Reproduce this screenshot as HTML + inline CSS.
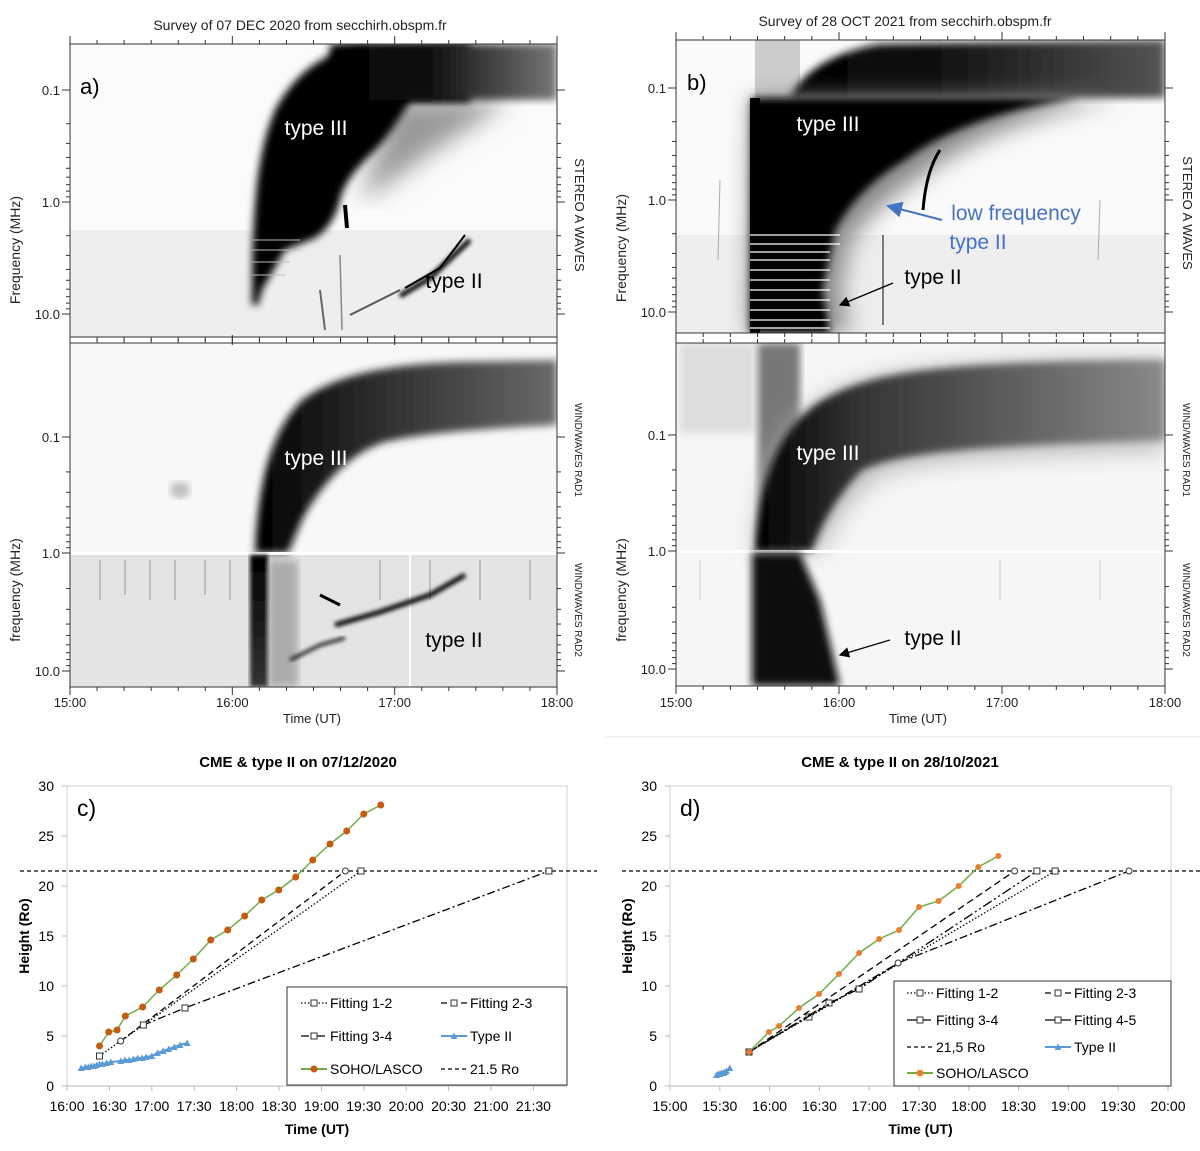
<!DOCTYPE html>
<html><head><meta charset="utf-8"><style>
body{margin:0;background:#fff;}
svg{display:block;font-family:"Liberation Sans",sans-serif;}
</style></head><body>
<svg id="fig" width="1200" height="1151" viewBox="0 0 1200 1151">
<defs>
<filter id="b2"><feGaussianBlur stdDeviation="2"/></filter>
<filter id="b4"><feGaussianBlur stdDeviation="4"/></filter>
<filter id="b7"><feGaussianBlur stdDeviation="7"/></filter>
<filter id="b12"><feGaussianBlur stdDeviation="12"/></filter>
<linearGradient id="gTopA" x1="0" x2="1" y1="0" y2="0"><stop offset="0" stop-color="#000"/><stop offset="0.45" stop-color="#111"/><stop offset="1" stop-color="#777"/></linearGradient>
<linearGradient id="gBotA" x1="0" x2="1"><stop offset="0" stop-color="#000"/><stop offset="0.3" stop-color="#222"/><stop offset="1" stop-color="#6a6a6a"/></linearGradient>
<linearGradient id="gTopB" x1="0" x2="1"><stop offset="0" stop-color="#000"/><stop offset="0.4" stop-color="#111"/><stop offset="1" stop-color="#555"/></linearGradient>
<linearGradient id="gBotB" x1="0" x2="1"><stop offset="0" stop-color="#000"/><stop offset="0.25" stop-color="#333"/><stop offset="1" stop-color="#8a8a8a"/></linearGradient>
<linearGradient id="gStreak" x1="0" x2="0" y1="0" y2="1"><stop offset="0" stop-color="#000"/><stop offset="1" stop-color="#333"/></linearGradient>
<clipPath id="cA1"><rect x="70" y="44" width="487" height="293"/></clipPath>
<clipPath id="cA2"><rect x="70" y="343" width="487" height="344"/></clipPath>
<clipPath id="cB1"><rect x="676" y="40" width="489" height="293"/></clipPath>
<clipPath id="cB2"><rect x="676" y="343" width="489" height="343"/></clipPath>
<marker id="arB" markerWidth="8" markerHeight="8" refX="7" refY="4" orient="auto"><path d="M0,0 L8,4 L0,8 Z" fill="#000"/></marker>
<marker id="arU" markerWidth="8" markerHeight="8" refX="7" refY="4" orient="auto"><path d="M0,0 L8,4 L0,8 Z" fill="#4472C4"/></marker>
</defs>

<text x="300" y="30" text-anchor="middle" font-size="14" fill="#222">Survey of 07 DEC 2020 from secchirh.obspm.fr</text>
<text x="905" y="26" text-anchor="middle" font-size="14" fill="#222">Survey of 28 OCT 2021 from secchirh.obspm.fr</text>

<!-- Panel a top -->
<g clip-path="url(#cA1)">
<rect x="70" y="44" width="487" height="293" fill="#fbfbfb"/>
<rect x="70" y="230" width="487" height="107" fill="#eeeeee"/>
<path d="M395,100 L510,100 C480,120 450,140 420,160 C400,175 380,190 360,200 Z" fill="#999" filter="url(#b12)"/>
<path d="M252,305 C252,200 258,150 275,110 C292,78 318,55 355,47 L470,44 L470,102 L410,102 C398,120 390,135 375,150 C360,165 345,180 340,200 C336,215 330,228 315,238 L285,250 L262,290 L258,305 Z" fill="#000" filter="url(#b4)"/>
<path d="M330,44 L557,44 L557,100 L330,100 Z" fill="url(#gTopA)" filter="url(#b4)"/>
<g stroke="#000" fill="none">
<path d="M400,296 L430,278 L470,240" stroke-width="5" filter="url(#b2)"/>
<path d="M405,288 L440,268 L465,235" stroke-width="2"/>
<path d="M350,315 L380,300 L400,290" stroke-width="2" stroke="#555"/>
<path d="M320,290 L325,330" stroke-width="2" stroke="#666"/>
<path d="M340,255 L342,330" stroke-width="1.5" stroke="#888"/>
<path d="M345,205 L347,228" stroke-width="4"/>
</g>
<g stroke="#bbb" stroke-width="1"><line x1="252" y1="240" x2="300" y2="240"/><line x1="252" y1="250" x2="300" y2="250"/><line x1="252" y1="262" x2="290" y2="262"/><line x1="252" y1="275" x2="285" y2="275"/></g>
</g>
<rect x="70" y="44" width="487" height="293" fill="none" stroke="#333"/>

<!-- Panel a bottom -->
<g clip-path="url(#cA2)">
<rect x="70" y="343" width="487" height="344" fill="#f8f8f8"/>
<rect x="70" y="555" width="487" height="132" fill="#e4e4e4"/>
<path d="M255,553 C258,480 272,430 302,400 C335,375 385,365 455,362 L557,360 L557,425 C500,428 425,432 385,442 C352,452 322,482 302,520 L288,553 Z" fill="url(#gBotA)" filter="url(#b4)"/>
<ellipse cx="180" cy="490" rx="10" ry="8" fill="#bbb" filter="url(#b4)"/>
<rect x="70" y="552" width="487" height="3" fill="#fff"/>
<rect x="250" y="555" width="18" height="132" fill="url(#gStreak)" filter="url(#b2)"/>
<rect x="268" y="560" width="30" height="127" fill="#888" filter="url(#b4)" opacity="0.6"/>
<g stroke="#999" stroke-width="1">
<line x1="100" y1="560" x2="100" y2="600"/><line x1="125" y1="560" x2="125" y2="595"/><line x1="150" y1="560" x2="150" y2="600"/><line x1="175" y1="560" x2="175" y2="600"/><line x1="205" y1="560" x2="205" y2="595"/><line x1="230" y1="560" x2="230" y2="600"/><line x1="380" y1="560" x2="380" y2="600"/><line x1="430" y1="560" x2="430" y2="600"/><line x1="480" y1="560" x2="480" y2="600"/><line x1="530" y1="560" x2="530" y2="600"/><line x1="410" y1="555" x2="410" y2="687" stroke="#fff" stroke-width="2"/>
</g>
<g stroke="#000" fill="none">
<path d="M335,625 L380,612 L430,595 L465,575" stroke-width="5" filter="url(#b2)"/>
<path d="M290,660 L320,645 L345,638" stroke-width="3" filter="url(#b2)"/>
<path d="M320,595 L340,605" stroke-width="3"/>
</g>
</g>
<rect x="70" y="343" width="487" height="344" fill="none" stroke="#333"/>

<!-- Panel b top -->
<g clip-path="url(#cB1)">
<rect x="676" y="40" width="489" height="293" fill="#fafafa"/>
<rect x="676" y="235" width="489" height="98" fill="#eeeeee"/>
<rect x="755" y="40" width="45" height="58" fill="#ccc"/>
<path d="M790,98 C800,75 830,52 880,44 L1165,40 L1165,98 Z" fill="url(#gTopB)" filter="url(#b4)"/>
<path d="M752,98 L1120,98 C1030,115 970,140 930,170 C890,195 870,215 850,240 L840,290 L850,333 L750,333 Z" fill="#888" filter="url(#b12)"/>
<path d="M752,98 L1080,98 C1000,110 945,130 905,160 C872,180 852,200 835,230 L822,290 L830,333 L750,333 Z" fill="#000" filter="url(#b4)"/>
<rect x="750" y="98" width="10" height="235" fill="#000"/>
<g stroke="#fff" stroke-width="1.2"><line x1="750" y1="235" x2="840" y2="235"/><line x1="750" y1="244" x2="840" y2="244"/><line x1="750" y1="252" x2="830" y2="252"/><line x1="750" y1="260" x2="830" y2="260"/><line x1="750" y1="270" x2="830" y2="270"/><line x1="750" y1="280" x2="830" y2="280"/><line x1="750" y1="290" x2="830" y2="290"/><line x1="750" y1="300" x2="830" y2="300"/><line x1="750" y1="310" x2="830" y2="310"/><line x1="750" y1="320" x2="830" y2="320"/><line x1="750" y1="328" x2="830" y2="328"/></g>
<path d="M940,150 C930,165 925,185 923,210" stroke="#000" stroke-width="3" fill="none"/>
<line x1="883" y1="235" x2="883" y2="325" stroke="#555" stroke-width="1.5"/>
<line x1="720" y1="180" x2="718" y2="260" stroke="#aaa" stroke-width="1"/>
<line x1="1100" y1="200" x2="1098" y2="260" stroke="#aaa" stroke-width="1"/>
</g>
<rect x="676" y="40" width="489" height="293" fill="none" stroke="#333"/>

<!-- Panel b bottom -->
<g clip-path="url(#cB2)">
<rect x="676" y="343" width="489" height="343" fill="#f6f6f6"/>
<rect x="680" y="343" width="75" height="90" fill="#ddd" filter="url(#b4)"/>
<rect x="758" y="343" width="42" height="208" fill="#777" filter="url(#b4)"/>
<path d="M755,551 C760,470 782,420 832,395 C882,370 952,362 1165,360 L1165,450 C1002,455 902,460 872,480 C852,500 832,520 822,551 Z" fill="#bbb" filter="url(#b12)"/>
<path d="M755,551 C760,470 782,420 832,395 C882,370 952,362 1165,360 L1165,440 C1002,445 902,450 862,470 C842,490 822,520 812,551 Z" fill="url(#gBotB)" filter="url(#b4)"/>
<rect x="676" y="550" width="489" height="3" fill="#fff"/>
<path d="M752,553 L800,553 L820,600 L840,686 L752,686 Z" fill="#111" filter="url(#b4)"/>
<g stroke="#ccc"><line x1="700" y1="560" x2="700" y2="600"/><line x1="1000" y1="560" x2="1000" y2="600"/><line x1="1100" y1="560" x2="1100" y2="600"/></g>
</g>
<rect x="676" y="343" width="489" height="343" fill="none" stroke="#333"/>

<g id="specAxes"></g>

<g font-family="'Liberation Sans',sans-serif" font-size="21">
<text x="80" y="94" fill="#000" font-size="22">a)</text>
<text x="316" y="135" text-anchor="middle" fill="#fff">type III</text>
<text x="454" y="288" text-anchor="middle" fill="#000">type II</text>
<text x="316" y="465" text-anchor="middle" fill="#fff">type III</text>
<text x="454" y="647" text-anchor="middle" fill="#000">type II</text>
<text x="687" y="90" fill="#000" font-size="22">b)</text>
<text x="828" y="131" text-anchor="middle" fill="#fff">type III</text>
<text x="1016" y="220" text-anchor="middle" fill="#4472C4">low frequency</text>
<text x="978" y="249" text-anchor="middle" fill="#4472C4">type II</text>
<text x="933" y="284" text-anchor="middle" fill="#000">type II</text>
<text x="828" y="460" text-anchor="middle" fill="#fff">type III</text>
<text x="933" y="645" text-anchor="middle" fill="#000">type II</text>
</g>
<line x1="942" y1="220" x2="888" y2="206" stroke="#4472C4" stroke-width="2" marker-end="url(#arU)"/>
<line x1="893" y1="283" x2="840" y2="305" stroke="#000" stroke-width="1.3" marker-end="url(#arB)"/>
<line x1="890" y1="640" x2="840" y2="655" stroke="#000" stroke-width="1.3" marker-end="url(#arB)"/>

<line x1="605" y1="737" x2="1200" y2="737" stroke="#e6e6e6"/>

<g id="chartC"></g>
<g id="chartD"></g>
</svg>

<script>
// ---- chart c data (minutes after 16:00, heights in Ro) ----
const cLascoT=[23,29.5,35.4,41.3,53.5,65.3,77.6,89.4,101.7,113.7,125.7,137.8,149.8,161.8,173.9,186.1,197.9,210,222];
const cLascoH=[4.0,5.4,5.6,7.0,7.9,9.6,11.1,12.7,14.6,15.6,17.0,18.6,19.6,20.9,22.6,24.2,25.5,27.2,28.1];
const cType2T=[10,13,15,17,19,21,23,25,28,31,38,41,44,47,50,53,56,60,64,68,72,76,80,85];
const cType2H=[1.8,1.9,1.9,2.0,2.0,2.1,2.2,2.2,2.3,2.4,2.5,2.6,2.6,2.7,2.8,2.8,2.9,3.0,3.3,3.5,3.7,3.9,4.1,4.3];
const cFit12T=[23,208], cFit12H=[3.0,21.5];
const cFit23T=[38,197], cFit23H=[4.5,21.5];
const cFit34T=[54,83.5,341], cFit34H=[6.1,7.8,21.5];
const cTicks=["16:00","16:30","17:00","17:30","18:00","18:30","19:00","19:30","20:00","20:30","21:00","21:30"];
// ---- chart d data (minutes after 15:00) ----
const dLascoT=[47.6,59.6,65.7,77.7,89.8,101.8,113.9,126,138,150,161.8,173.9,185.7,197.8];
const dLascoH=[3.4,5.4,6.0,7.8,9.2,11.2,13.3,14.7,15.6,17.9,18.5,20.0,21.9,23.0];
const dType2T=[28,29,30,31,32,33,34,36];
const dType2H=[1.1,1.2,1.2,1.3,1.3,1.4,1.5,1.8];
const dFit12T=[47.6,83.7,232], dFit12H=[3.4,6.9,21.5];
const dFit23T=[47.6,207.6], dFit23H=[3.4,21.5];
const dFit34T=[47.6,95.8,113.9,221], dFit34H=[3.4,8.3,9.7,21.5];
const dFit45T=[47.6,137.4,276.5], dFit45H=[3.4,12.3,21.5];
const dTicks=["15:00","15:30","16:00","16:30","17:00","17:30","18:00","18:30","19:00","19:30","20:00"];
const yTicks=[0,5,10,15,20,25,30];
const limitRo=21.5;

const NS="http://www.w3.org/2000/svg";
function mk(parent,tag,attrs,txt){const e=document.createElementNS(NS,tag);for(const k in attrs)e.setAttribute(k,attrs[k]);if(txt!==undefined)e.textContent=txt;parent.appendChild(e);return e;}

function drawChart(g,cfg){
  const X=t=>cfg.x0+t*cfg.pxPer30/30;
  const Y=h=>1086-h*10;
  const box=mk(g,'rect',{x:cfg.x0,y:Y(30),width:cfg.x1-cfg.x0,height:300,fill:'#fff',stroke:'#d0d0d0'});
  
  
  const title=mk(g,'text',{x:cfg.titleX,y:767,'text-anchor':'middle','font-size':15,'font-weight':'bold'},cfg.title);
  
  
  const pl=mk(g,'text',{x:cfg.x0+10,y:Y(30)+30,'font-size':23},cfg.panel);
  
  
  yTicks.forEach(v=>{
    const t=mk(g,'text',{x:cfg.x0-13,y:Y(v)+5,'text-anchor':'end','font-size':14},String(v));
    
    
    mk(g,'line',{x1:cfg.x0-5,x2:cfg.x0,y1:Y(v),y2:Y(v),stroke:'#bbb'});
  });
  cfg.ticks.forEach((s,i)=>{
    const xx=X(i*30);
    mk(g,'line',{x1:xx,x2:xx,y1:1086,y2:1091,stroke:'#bbb'});
    const t=mk(g,'text',{x:xx,y:1111,'text-anchor':'middle','font-size':14},s);
    
    
  });
  mk(g,'line',{x1:cfg.x0,x2:cfg.x1,y1:1086,y2:1086,stroke:'#bbb'});
  const yl=mk(g,'text',{x:0,y:0,'text-anchor':'middle','font-size':14,'font-weight':'bold',transform:`translate(${cfg.x0-38},936) rotate(-90)`},'Height (Ro)');
  
  
  const xl=mk(g,'text',{x:(cfg.x0+cfg.x1)/2,y:1134,'text-anchor':'middle','font-size':14,'font-weight':'bold'},'Time (UT)');
  
  
  const hl=mk(g,'line',{x1:cfg.hx0,x2:cfg.x1+30,y1:Y(limitRo),y2:Y(limitRo),stroke:'#000','stroke-dasharray':'4 3','stroke-width':1.2});
  
  
  cfg.fits.forEach(f=>{
    const pts=f.t.map((t,i)=>X(t)+','+Y(f.h[i])).join(' ');
    const l=mk(g,'polyline',{points:pts,fill:'none',stroke:'#000','stroke-width':1.3,'stroke-dasharray':f.dash});
    
    
    f.t.forEach((t,i)=>{
      const m=mk(g,'rect',{x:X(t)-3,y:Y(f.h[i])-3,width:6,height:6,rx:f.round?3:0,fill:'#fff',stroke:'#333','stroke-width':1});
      
      
    });
  });
  const t2=mk(g,'polyline',{points:cfg.t2T.map((t,i)=>X(t)+','+Y(cfg.t2H[i])).join(' '),fill:'none',stroke:'#5B9BD5','stroke-width':2});
  
  
  cfg.t2T.forEach((t,i)=>{
    const x=X(t),y=Y(cfg.t2H[i]);
    const p=mk(g,'path',{d:`M${x-3.5},${y+3} L${x+3.5},${y+3} L${x},${y-3.5} Z`,fill:'#5B9BD5'});
    
    
  });
  const ls=mk(g,'polyline',{points:cfg.lT.map((t,i)=>X(t)+','+Y(cfg.lH[i])).join(' '),fill:'none',stroke:'#70AD47','stroke-width':1.5});
  
  
  cfg.lT.forEach((t,i)=>{
    const c=mk(g,'circle',{cx:X(t),cy:Y(cfg.lH[i]),r:cfg.lr,fill:cfg.lcol});
    
    
  });
  const L=cfg.legend;
  const lb=mk(g,'rect',{x:L.x,y:L.y,width:L.w,height:L.h,fill:'#fff',stroke:'#333'});
  
  
  L.items.forEach(it=>{
    const sx=it.c?L.c2:L.c1, sy=L.rows[it.r];
    const ln=mk(g,'line',{x1:sx,x2:sx+26,y1:sy,y2:sy,stroke:it.col||'#000','stroke-width':it.col?2:1.3,'stroke-dasharray':it.dash||''});
    
    
    if(it.mark==='sq') mk(g,'rect',{x:sx+10,y:sy-3,width:6,height:6,fill:'#fff',stroke:'#333'});
    if(it.mark==='dot') mk(g,'circle',{cx:sx+13,cy:sy,r:3.5,fill:cfg.lcol});
    if(it.mark==='tri') mk(g,'path',{d:`M${sx+9.5},${sy+3} L${sx+16.5},${sy+3} L${sx+13},${sy-3.5} Z`,fill:'#5B9BD5'});
    const tx=mk(g,'text',{x:sx+29,y:sy+5,'font-size':14},it.label);
    
    
  });
}

drawChart(document.getElementById('chartC'),{
  x0:67,x1:567,hx0:20,pxPer30:42.4,ticks:cTicks,title:'CME & type II on 07/12/2020',titleX:298,panel:'c)',
  lT:cLascoT,lH:cLascoH,lcol:'#C55A11',lr:3.5,t2T:cType2T,t2H:cType2H,
  fits:[{t:cFit12T,h:cFit12H,dash:'1.5 2',name:'fitting-1-2'},{t:cFit23T,h:cFit23H,dash:'6 4',name:'fitting-2-3',round:true},{t:cFit34T,h:cFit34H,dash:'8 3 2 3',name:'fitting-3-4'}],
  legend:{x:287,y:987,w:280,h:98,c1:301,c2:441,rows:[1003,1036,1069],items:[
    {r:0,c:0,label:'Fitting 1-2',dash:'1.5 2',mark:'sq'},{r:0,c:1,label:'Fitting 2-3',dash:'6 4',mark:'sq'},
    {r:1,c:0,label:'Fitting 3-4',dash:'8 3 2 3',mark:'sq'},{r:1,c:1,label:'Type II',col:'#5B9BD5',mark:'tri'},
    {r:2,c:0,label:'SOHO/LASCO',col:'#70AD47',mark:'dot'},{r:2,c:1,label:'21.5 Ro',dash:'4 3'}]}
});
drawChart(document.getElementById('chartD'),{
  x0:670,x1:1171,hx0:622,pxPer30:49.8,ticks:dTicks,title:'CME & type II on 28/10/2021',titleX:900,panel:'d)',
  lT:dLascoT,lH:dLascoH,lcol:'#ED7D31',lr:3,t2T:dType2T,t2H:dType2H,
  fits:[{t:dFit12T,h:dFit12H,dash:'1.5 2',name:'fitting-1-2'},{t:dFit23T,h:dFit23H,dash:'7 4',name:'fitting-2-3',round:true},{t:dFit34T,h:dFit34H,dash:'10 3 2 3 2 3',name:'fitting-3-4'},{t:dFit45T,h:dFit45H,dash:'8 3 2 3',name:'fitting-4-5',round:true}],
  legend:{x:894,y:981,w:277,h:105,c1:907,c2:1045,rows:[993,1020,1047,1073],items:[
    {r:0,c:0,label:'Fitting 1-2',dash:'1.5 2',mark:'sq'},{r:0,c:1,label:'Fitting 2-3',dash:'6 4',mark:'sq'},
    {r:1,c:0,label:'Fitting 3-4',dash:'10 4',mark:'sq'},{r:1,c:1,label:'Fitting 4-5',mark:'sq'},
    {r:2,c:0,label:'21,5 Ro',dash:'4 3'},{r:2,c:1,label:'Type II',col:'#5B9BD5',mark:'tri'},
    {r:3,c:0,label:'SOHO/LASCO',col:'#70AD47',mark:'dot'}]}
});

const sa=document.getElementById('specAxes');
const timeLabels=["15:00","16:00","17:00","18:00"];
const freqLabels=["0.1","1.0","10.0"];
function specAxes(x0,x1,boxes,xLab,rightLabels){
  boxes.forEach(b=>{
    for(let m=0;m<=18;m++){const x=x0+(x1-x0)*m/18, big=m%6===0?8:4;
      mk(sa,'line',{x1:x,x2:x,y1:b.top,y2:b.top-big,stroke:'#333'});
      mk(sa,'line',{x1:x,x2:x,y1:b.bot,y2:b.bot+big,stroke:'#333'});}
    freqLabels.forEach((f,i)=>{const y=b.f[i];
      mk(sa,'line',{x1:x0-8,x2:x0,y1:y,y2:y,stroke:'#333'});mk(sa,'line',{x1:x1,x2:x1+8,y1:y,y2:y,stroke:'#333'});
      const t=mk(sa,'text',{x:x0-10,y:y+5,'text-anchor':'end','font-size':13,fill:'#222'},f);
      
      
      if(i<2){const d=b.f[i+1]-y;[2,3,4,5,6,7,8,9].forEach(k=>{const yy=y+d*Math.log10(k);
        mk(sa,'line',{x1:x0-4,x2:x0,y1:yy,y2:yy,stroke:'#333'});mk(sa,'line',{x1:x1,x2:x1+4,y1:yy,y2:yy,stroke:'#333'});});}
    });
    const yl=mk(sa,'text',{'text-anchor':'middle','font-size':14,fill:'#222',transform:`translate(${x0-50},${b.mid}) rotate(-90)`},b.lab);
    
    
  });
  timeLabels.forEach((s,i)=>{const t=mk(sa,'text',{x:x0+(x1-x0)*i/3,y:707,'text-anchor':'middle','font-size':13,fill:'#222'},s);
    
    });
  const tl=mk(sa,'text',{x:xLab,y:723,'text-anchor':'middle','font-size':13,fill:'#222'},'Time (UT)');
  
  
  rightLabels.forEach(r=>{const t=mk(sa,'text',{'text-anchor':'middle','font-size':r.s,fill:'#222',transform:`translate(${x1+18},${r.y}) rotate(90)`},r.t);
    
    });
}
specAxes(70,557,[{top:44,bot:337,f:[90,202,314],mid:250,lab:'Frequency  (MHz)'},{top:343,bot:687,f:[437,553,671],mid:590,lab:'frequency  (MHz)'}],312,
  [{t:'STEREO A WAVES',y:215,s:13},{t:'WIND/WAVES RAD1',y:450,s:10},{t:'WIND/WAVES RAD2',y:610,s:10}]);
specAxes(676,1165,[{top:40,bot:333,f:[88,200,312],mid:248,lab:'Frequency  (MHz)'},{top:343,bot:686,f:[435,551,669],mid:590,lab:'frequency  (MHz)'}],918,
  [{t:'STEREO A WAVES',y:213,s:13},{t:'WIND/WAVES RAD1',y:450,s:10},{t:'WIND/WAVES RAD2',y:610,s:10}]);
</script>
</body></html>
